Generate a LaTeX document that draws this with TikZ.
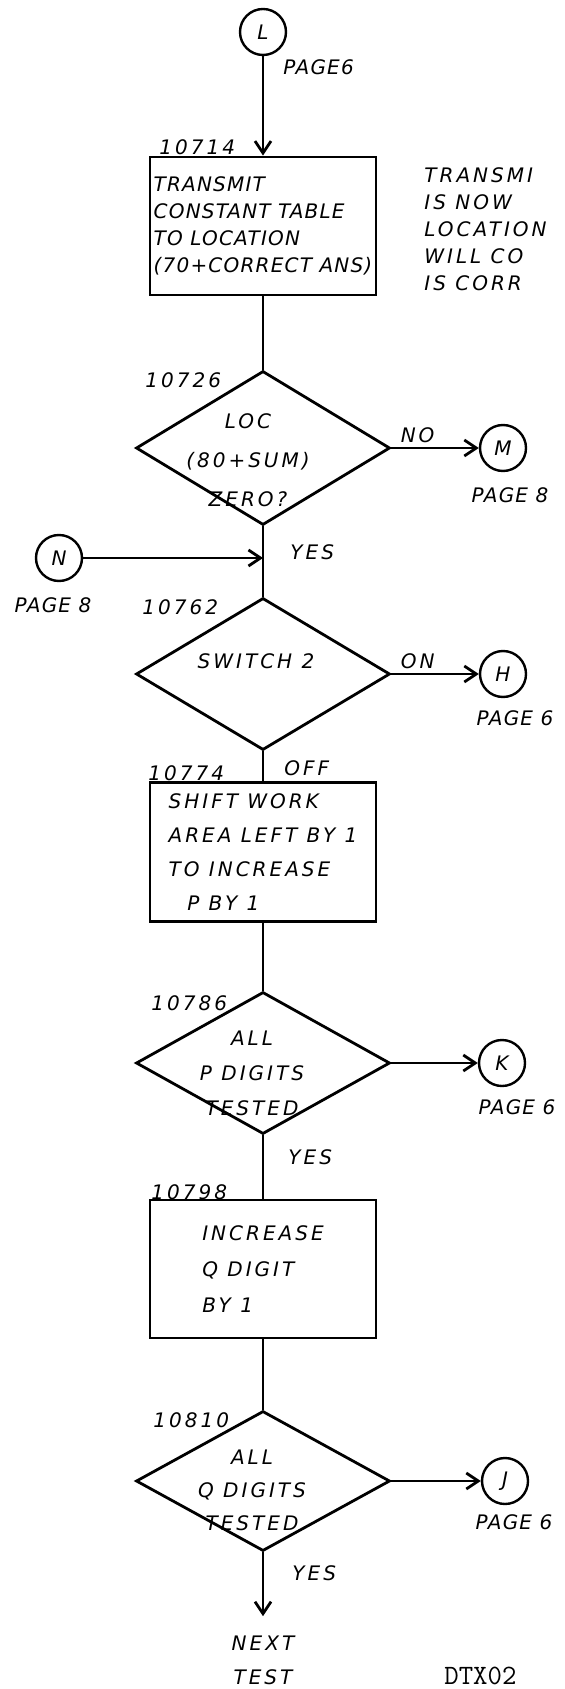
\documentclass[tikz,border=0pt]{standalone}
\usepackage{fontspec}
\newfontfamily\hand[LetterSpace=15]{DejaVu Sans}
\newfontfamily\handtight[LetterSpace=6]{DejaVu Sans}
\newcommand\handsize[1]{\hand\itshape\fontsize{10}{#1}\selectfont}
\newcommand\tightsize[1]{\handtight\itshape\fontsize{10}{#1}\selectfont}
\usepackage{tikz}
\usetikzlibrary{arrows.meta,positioning,shapes.geometric}

\begin{document}
\begin{tikzpicture}[x=0.5pt, y=-0.5pt,
  font=\handsize{13.5},
  line width=1.4pt,
  b/.style={draw, minimum width=113pt, minimum height=69pt, inner sep=0pt, align=left},
  dia/.style={draw, diamond, minimum width=127pt, inner sep=0pt},
  con/.style={draw, circle, minimum size=23pt, inner sep=0pt, line width=1.2pt},
  txt/.style={align=center, inner sep=0pt},
  pg/.style={txt, font=\tightsize{13.5}},
  num/.style={anchor=west, inner sep=0pt},
  arr/.style={-{Straight Barb[length=6pt, width=8pt]}}
]
\useasboundingbox (0,0) rectangle (565,1689);

% entry and first block
\node[con] (L) at (263,32) {L};
\node[num, font=\tightsize{13.5}] (pL) at (282,67) {PAGE6};
\node[b, font=\tightsize{13.5}] (transmit) at (263,226) {TRANSMIT\\CONSTANT TABLE\\TO LOCATION\\(70+CORRECT ANS)};
\node[num] (n1) at (158,147) {10714};
\node[num, align=left, anchor=north west] (note) at (423,166) {TRANSMI\\IS NOW\\LOCATION\\WILL CO\\IS CORR};

% zero test
\node[dia, minimum height=77pt] (zero) at (263,448) {};
\node[txt, font=\handsize{19.5}] (zerot) at (248,460) {LOC\\(80+SUM)\\ZERO?};
\node[num] (n2) at (144,380) {10726};
\node[con] (M) at (503,448) {M};
\node[pg] (pM) at (510,495) {PAGE 8};
\node[con] (N) at (59,558) {N};
\node[pg] (pN) at (53,605) {PAGE 8};
\coordinate (join) at (zero.south |- N.east);

% switch test
\node[dia, minimum height=76pt] (sw) at (263,674) {};
\node[txt] (swt) at (256,661) {SWITCH 2};
\node[num] (n3) at (141,607) {10762};
\node[con] (H) at (503,674) {H};
\node[pg] (pH) at (515,718) {PAGE 6};

% shift work area
\node[b, minimum height=69.5pt, font=\handsize{17}] (shift) at (263,852) {SHIFT WORK\\AREA LEFT BY 1\\TO INCREASE\\\ \ P BY 1};
\node[num] (n4) at (147,773) {10774};

% P digits
\node[dia, minimum height=71pt] (pdig) at (263,1063) {};
\node[txt, font=\handsize{17.5}] (pdigt) at (252,1073) {ALL\\P DIGITS\\TESTED};
\node[num] (n5) at (150,1003) {10786};
\node[con] (K) at (502,1063) {K};
\node[pg] (pK) at (517,1107) {PAGE 6};

% Q digit
\node[b, font=\handsize{18}] (incq) at (263,1269) {INCREASE\\Q DIGIT\\BY 1};
\node[num] (n6) at (150,1192) {10798};

\node[dia, minimum height=70pt] (qdig) at (263,1481) {};
\node[txt, font=\handsize{16.5}] (qdigt) at (252,1490) {ALL\\Q DIGITS\\TESTED};
\node[num] (n7) at (152,1420) {10810};
\node[con] (J) at (505,1481) {J};
\node[pg] (pJ) at (514,1522) {PAGE 6};

\node[txt, font=\handsize{17}] (next) at (263,1660) {NEXT\\TEST};
\node[anchor=north west, inner sep=0pt, font=\ttfamily\fontsize{14}{14}\selectfont] (code) at (443,1666) {DTX02};

% connectors
\draw[arr] (L) -- (transmit);
\draw (transmit) -- (zero);
\draw[arr] (zero.east) -- node[above, pos=0.3, inner sep=2pt] {NO} (M);
\draw (zero.south) -- node[pos=0.37, right=13pt, inner sep=0pt] {YES} (sw.north);
\draw[arr] (N) -- (join);
\draw[arr] (sw.east) -- node[above, pos=0.3, inner sep=2pt] {ON} (H);
\draw (sw.south) -- node[pos=0.58, right=10pt, inner sep=0pt] {OFF} (shift.north);
\draw (shift) -- (pdig);
\draw[arr] (pdig.east) -- (K);
\draw (pdig.south) -- node[pos=0.35, right=12pt, inner sep=0pt] {YES} (incq.north);
\draw (incq) -- (qdig);
\draw[arr] (qdig.east) -- (J);
\draw[arr, shorten >=9pt] (qdig.south) -- node[pos=0.26, right=14pt, inner sep=0pt] {YES} (next.north);
\end{tikzpicture}
\end{document}
